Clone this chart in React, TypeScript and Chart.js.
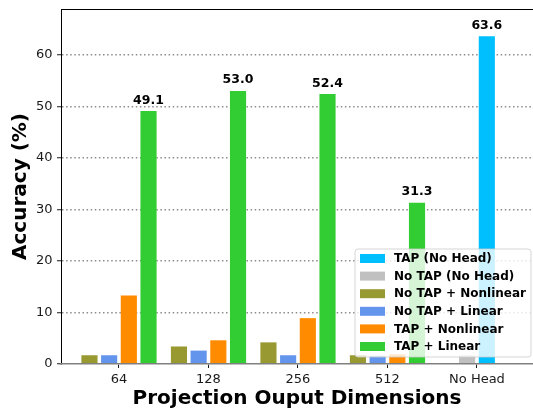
import { useEffect, useRef } from 'react';
import { Chart, registerables } from 'chart.js';

Chart.register(...registerables);

const categories = ['64', '128', '256', '512', 'No Head'];
const tapNoHead = [0, 0, 0, 0, 63.6];
const noTapNoHead = [0, 0, 0, 0, 1.7];
const noTapNonlinear = [1.7, 3.4, 4.2, 1.7, 0];
const noTapLinear = [1.7, 2.6, 1.7, 1.6, 0];
const tapNonlinear = [13.3, 4.6, 8.9, 1.9, 0];
const tapLinear = [49.1, 53.0, 52.4, 31.3, 0];
const yTicks = [0, 10, 20, 30, 40, 50, 60];

const FONT = "'DejaVu Sans', 'Liberation Sans', sans-serif";

const legendItems = [
  { label: 'TAP (No Head)', color: '#00BFFF' },
  { label: 'No TAP (No Head)', color: '#C0C0C0' },
  { label: 'No TAP + Nonlinear', color: '#999932' },
  { label: 'No TAP + Linear', color: '#6495ED' },
  { label: 'TAP + Nonlinear', color: '#FF8C00' },
  { label: 'TAP + Linear', color: '#32CD32' },
];

const toPoints = (arr: number[]) => arr.map((y, i) => ({ x: i, y }));

const overlayPlugin = {
  id: 'overlay',
  afterDatasetsDraw(chart: any) {
    const ctx = chart.ctx;
    const a = chart.chartArea;
    ctx.save();
    // top spine
    ctx.strokeStyle = '#000';
    ctx.lineWidth = 1;
    ctx.beginPath();
    ctx.moveTo(a.left, Math.round(a.top) + 0.5);
    ctx.lineTo(a.right, Math.round(a.top) + 0.5);
    ctx.stroke();

    // value labels
    ctx.font = `bold 12.5px ${FONT}`;
    ctx.textAlign = 'center';
    ctx.textBaseline = 'alphabetic';
    ctx.fillStyle = '#000';
    chart.data.datasets.forEach((ds: any, di: number) => {
      if (!ds.showValue) return;
      const meta = chart.getDatasetMeta(di);
      meta.data.forEach((el: any, i: number) => {
        const v = ds.data[i].y;
        if (v > 0) ctx.fillText(v.toFixed(1), el.x, el.y - 7.5);
      });
    });

    // legend
    const bx = a.right - 178;
    const by = 249;
    const bw = 176;
    const bh = 108;
    const r = 3;
    ctx.beginPath();
    ctx.moveTo(bx + r, by);
    ctx.lineTo(bx + bw - r, by);
    ctx.quadraticCurveTo(bx + bw, by, bx + bw, by + r);
    ctx.lineTo(bx + bw, by + bh - r);
    ctx.quadraticCurveTo(bx + bw, by + bh, bx + bw - r, by + bh);
    ctx.lineTo(bx + r, by + bh);
    ctx.quadraticCurveTo(bx, by + bh, bx, by + bh - r);
    ctx.lineTo(bx, by + r);
    ctx.quadraticCurveTo(bx, by, bx + r, by);
    ctx.closePath();
    ctx.fillStyle = 'rgba(255,255,255,0.8)';
    ctx.fill();
    ctx.strokeStyle = 'rgba(204,204,204,0.8)';
    ctx.lineWidth = 1;
    ctx.stroke();

    ctx.font = `bold 12px ${FONT}`;
    ctx.textAlign = 'left';
    ctx.textBaseline = 'middle';
    legendItems.forEach((it, i) => {
      const cy = by + 9.5 + i * 17.6;
      ctx.fillStyle = it.color;
      ctx.fillRect(bx + 5, cy - 4.5, 25, 9);
      ctx.fillStyle = '#000';
      ctx.fillText(it.label, bx + 39, cy + 0.5);
    });
    ctx.restore();
  },
};

export default function App() {
  const ref = useRef<HTMLCanvasElement>(null);

  useEffect(() => {
    if (!ref.current) return;
    const mk = (label: string, arr: number[], color: string, stack: string, showValue = false) => ({
      label,
      data: toPoints(arr),
      backgroundColor: color,
      borderWidth: 0,
      stack,
      showValue,
      categoryPercentage: 0.88,
      barPercentage: 0.82,
    });
    const chart = new Chart(ref.current, {
      type: 'bar',
      data: {
        datasets: [
          mk('No TAP + Nonlinear', noTapNonlinear, '#999932', 'a'),
          mk('No TAP + Linear', noTapLinear, '#6495ED', 'b'),
          mk('No TAP (No Head)', noTapNoHead, '#C0C0C0', 'b'),
          mk('TAP + Nonlinear', tapNonlinear, '#FF8C00', 'c'),
          mk('TAP (No Head)', tapNoHead, '#00BFFF', 'c', true),
          mk('TAP + Linear', tapLinear, '#32CD32', 'd', true),
        ] as any,
      },
      options: {
        animation: false,
        responsive: false,
        devicePixelRatio: 1,
        layout: { padding: { top: 9, left: 0, right: 0, bottom: 0 } },
        plugins: {
          legend: { display: false },
          tooltip: { enabled: false },
        },
        scales: {
          x: {
            type: 'linear',
            stacked: true,
            offset: false,
            min: -0.648,
            max: 4.626,
            afterBuildTicks: (scale: any) => {
              scale.ticks = categories.map((_, i) => ({ value: i }));
            },
            afterFit: (scale: any) => {
              scale.height = 48;
              scale.paddingLeft = 0;
              scale.paddingRight = 0;
            },
            ticks: {
              autoSkip: false,
              maxRotation: 0,
              padding: 4,
              color: '#1a1a1a',
              font: { family: FONT, size: 13 },
              callback: (v: any) => categories[Math.round(Number(v))] ?? '',
            },
            grid: {
              offset: false,
              drawOnChartArea: false,
              drawTicks: true,
              tickLength: 4,
              tickColor: '#1a1a1a',
              tickWidth: 1,
            },
            border: { display: true, color: '#808080', width: 1.6, z: 1 },
            title: {
              display: true,
              text: 'Projection Ouput Dimensions',
              color: '#000',
              font: { family: FONT, size: 20, weight: 'bold' },
              padding: { top: 0, bottom: 1 },
            },
          },
          y: {
            stacked: true,
            min: 0,
            max: 68.9,
            afterFit: (scale: any) => {
              scale.width = 61;
              scale.paddingTop = 0;
              scale.paddingBottom = 0;
            },
            afterBuildTicks: (scale: any) => {
              scale.ticks = yTicks.map((v) => ({ value: v }));
            },
            ticks: {
              padding: 4.5,
              color: '#1a1a1a',
              font: { family: FONT, size: 13 },
            },
            grid: {
              color: (ctx: any) => (ctx.tick && ctx.tick.value === 0 ? 'rgba(0,0,0,0)' : '#8c8c8c'),
              lineWidth: 1.5,
              drawTicks: true,
              tickLength: 4,
              tickColor: '#1a1a1a',
              tickWidth: 1,
              tickBorderDash: [],
            },
            border: { display: true, color: '#000', width: 1, dash: [1.5, 2.6] },
            title: {
              display: true,
              text: 'Accuracy (%)',
              color: '#000',
              font: { family: FONT, size: 20, weight: 'bold' },
              padding: { top: 9, bottom: 0 },
            },
          },
        },
      } as any,
      plugins: [overlayPlugin],
    });
    return () => chart.destroy();
  }, []);

  return (
    <div style={{ position: 'fixed', left: 0, top: 0, width: 533, height: 412, background: '#fff' }}>
      <canvas ref={ref} width={533} height={412} style={{ width: 533, height: 412, display: 'block' }} />
    </div>
  );
}
